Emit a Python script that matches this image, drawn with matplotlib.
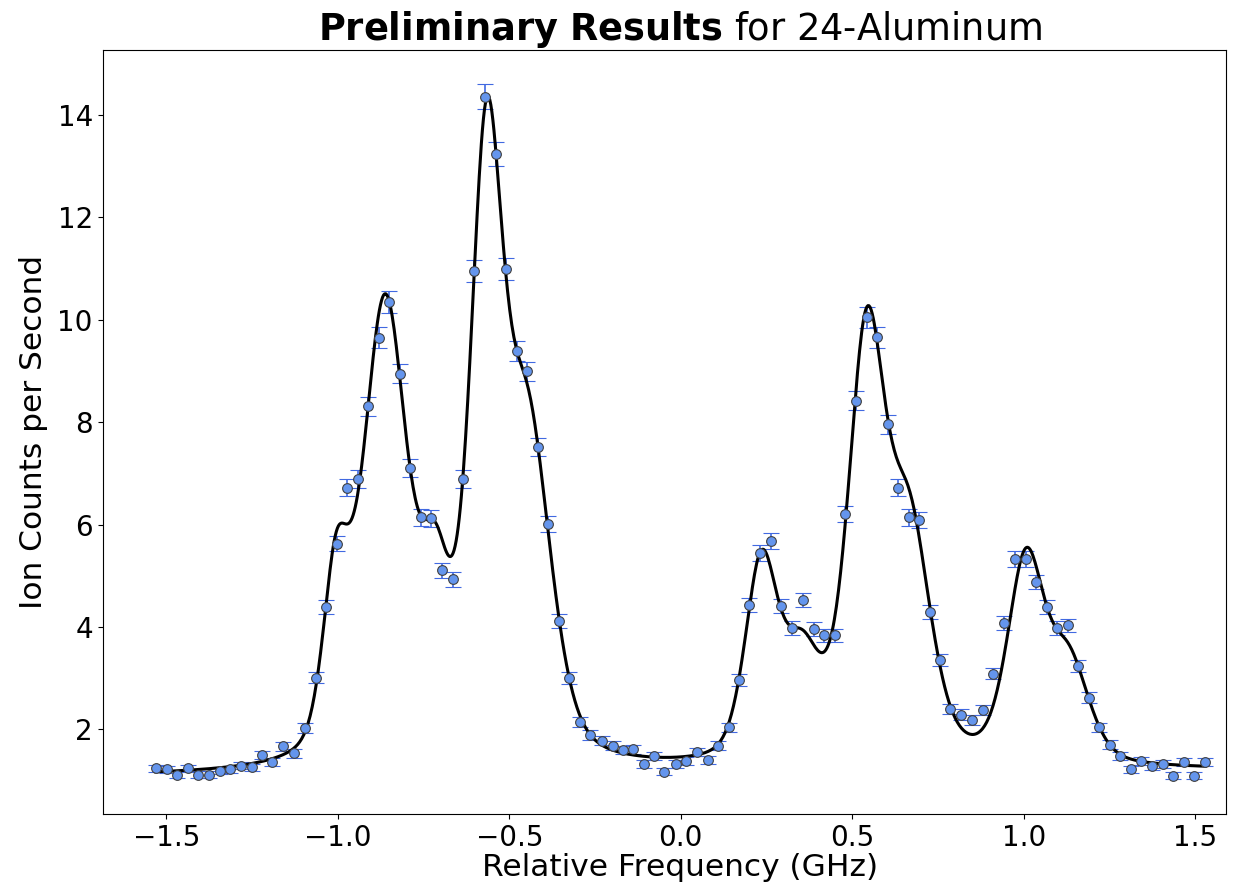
import numpy as np
import matplotlib
matplotlib.use("Agg")
import matplotlib.pyplot as plt

# measured ion counts (GHz offset, counts/s)
freq = [-1.531, -1.498, -1.468, -1.436, -1.408, -1.375, -1.343, -1.313, -1.281, -1.251,
        -1.220, -1.191, -1.159, -1.129, -1.096, -1.064, -1.034, -1.003, -0.973, -0.942,
        -0.912, -0.880, -0.851, -0.818, -0.789, -0.756, -0.727, -0.695, -0.663, -0.634,
        -0.602, -0.570, -0.539, -0.510, -0.478, -0.449, -0.417, -0.387, -0.355, -0.325,
        -0.294, -0.264, -0.231, -0.198, -0.169, -0.138, -0.108, -0.077, -0.049, -0.015,
        0.015, 0.048, 0.080, 0.109, 0.140, 0.169, 0.200, 0.231, 0.262, 0.292,
        0.325, 0.355, 0.387, 0.419, 0.449, 0.479, 0.510, 0.543, 0.572, 0.604,
        0.633, 0.665, 0.695, 0.727, 0.756, 0.785, 0.817, 0.849, 0.881, 0.911,
        0.943, 0.974, 1.006, 1.035, 1.067, 1.096, 1.128, 1.157, 1.190, 1.220,
        1.251, 1.281, 1.312, 1.342, 1.374, 1.406, 1.436, 1.468, 1.497, 1.529]
counts = [1.24, 1.22, 1.11, 1.24, 1.11, 1.11, 1.19, 1.22, 1.29, 1.26,
          1.50, 1.36, 1.67, 1.53, 2.03, 3.01, 4.39, 5.63, 6.72, 6.89,
          8.31, 9.65, 10.35, 8.95, 7.10, 6.14, 6.12, 5.11, 4.93, 6.89,
          10.96, 14.36, 13.24, 10.99, 9.39, 8.99, 7.51, 6.01, 4.12, 3.00,
          2.14, 1.89, 1.78, 1.68, 1.60, 1.61, 1.32, 1.48, 1.17, 1.32,
          1.39, 1.56, 1.41, 1.68, 2.04, 2.96, 4.43, 5.44, 5.68, 4.41,
          3.98, 4.52, 3.96, 3.84, 3.84, 6.21, 8.42, 10.05, 9.66, 7.96,
          6.72, 6.14, 6.09, 4.30, 3.35, 2.40, 2.29, 2.18, 2.38, 3.09,
          4.08, 5.33, 5.33, 4.88, 4.39, 3.98, 4.03, 3.23, 2.62, 2.04,
          1.70, 1.48, 1.22, 1.39, 1.28, 1.32, 1.09, 1.37, 1.09, 1.37]

# fitted pseudo-Voigt peaks (hyperfine components)
peak_centers = [-1.0056, -0.8623, -0.7142, -0.5674, -0.4469,
                0.2349, 0.3543, 0.5415, 0.6672, 1.0060, 1.1311]
peak_heights = [3.2632, 8.9129, 2.8703, 11.246, 6.3465,
                3.8085, 1.9303, 8.1099, 4.3540, 3.8940, 1.9201]
peak_widths = [0.0908, 0.1558, 0.1023, 0.1124, 0.1597,
               0.1123, 0.1299, 0.1282, 0.1459, 0.1266, 0.1405]
bg_offset = 1.1354
bg_slope = 0.0393
eta = 0.3828


def fit_curve(x):
    y = bg_offset + bg_slope * x
    for c, a, w in zip(peak_centers, peak_heights, peak_widths):
        u = (x - c) / w
        y = y + a * (eta / (1 + 4 * u ** 2) + (1 - eta) * np.exp(-4 * np.log(2) * u ** 2))
    return y


fig = plt.figure(figsize=(12.41, 8.92), dpi=100)
ax = fig.add_axes([0.0826, 0.0874, 0.988 - 0.0826, 0.944 - 0.0874])

# poisson-like uncertainty
err = 0.065 * np.sqrt(np.array(counts))
ax.errorbar(freq, counts, yerr=err, fmt='o', color='cornflowerblue', ms=7,
            mec='#404040', mew=0.8, ecolor='royalblue', elinewidth=1.2,
            capsize=6, capthick=1)
xs = np.linspace(min(freq), max(freq), 1000)
ax.plot(xs, fit_curve(xs), color='black', lw=2.2)

ax.set_xlim(-1.686, 1.590)
ax.set_ylim(0.346, 15.27)
ax.set_xticks([-1.5, -1.0, -0.5, 0.0, 0.5, 1.0, 1.5])
ax.set_yticks([2, 4, 6, 8, 10, 12, 14])
ax.tick_params(labelsize=20)
ax.set_xlabel('Relative Frequency (GHz)', fontsize=22.5, labelpad=1, x=0.514)
ax.set_ylabel('Ion Counts per Second', fontsize=22.5, labelpad=7)
ax.set_title(r'$\bf{Preliminary\ Results}$ for 24-Aluminum', fontsize=26.5, x=0.514)

fig.savefig('out.png', dpi=100)
